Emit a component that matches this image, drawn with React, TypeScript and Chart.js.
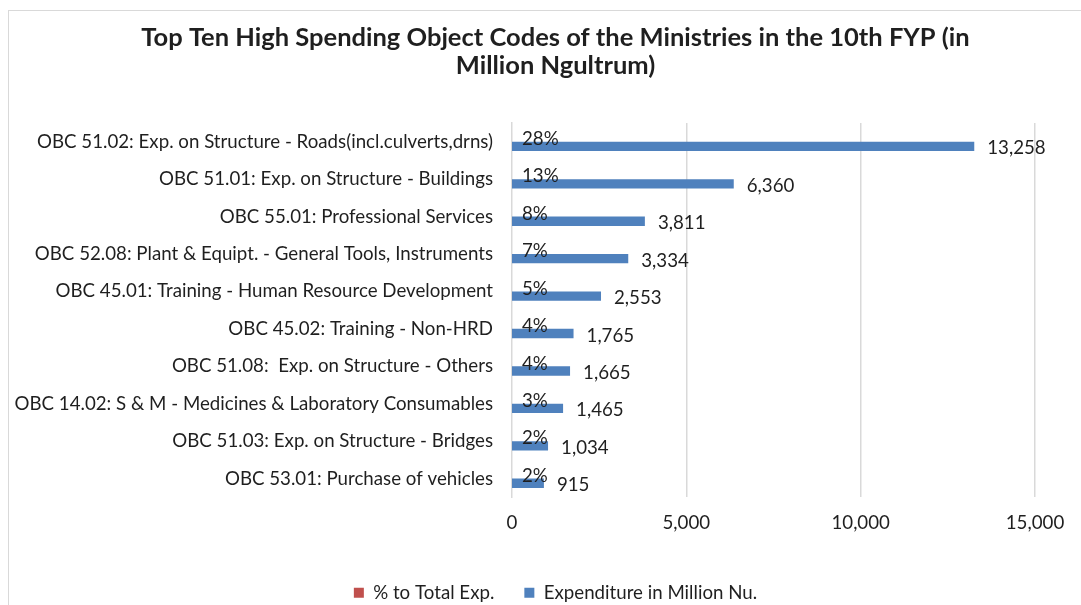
import React, { useEffect, useRef } from 'react';
import { Chart, registerables } from 'chart.js';

Chart.register(...registerables);

const titleLines = [
  'Top Ten High Spending Object Codes of the Ministries in the 10th FYP (in',
  'Million Ngultrum)',
];

const categories = [
  'OBC 51.02: Exp. on Structure - Roads(incl.culverts,drns)',
  'OBC 51.01: Exp. on Structure - Buildings',
  'OBC 55.01: Professional Services',
  'OBC 52.08: Plant & Equipt. - General Tools, Instruments',
  'OBC 45.01: Training - Human Resource Development',
  'OBC 45.02: Training - Non-HRD',
  'OBC 51.08:  Exp. on Structure - Others',
  'OBC 14.02: S & M - Medicines & Laboratory Consumables',
  'OBC 51.03: Exp. on Structure - Bridges',
  'OBC 53.01: Purchase of vehicles',
];

const seriesNames = ['% to Total Exp.', 'Expenditure in Million Nu.'];
const percentShares = [0.28, 0.13, 0.08, 0.07, 0.05, 0.04, 0.04, 0.03, 0.02, 0.02];
const expenditures = [13258, 6360, 3811, 3334, 2553, 1765, 1665, 1465, 1034, 915];
const xTickValues = [0, 5000, 10000, 15000];

const FONT = 'Lato';
const SIZE = 18.7;
const TEXT = '#1f1f1f';
const GRID = '#d9d9d9';

const fmt = (v: number) => v.toLocaleString('en-US');

const labelPlugin = {
  id: 'barLabels',
  afterLayout(chart: any) {
    // let the category labels use the full left margin (no clipping)
    const y = chart.scales.y;
    if (y) {
      const right = y.right;
      y.left = 0;
      y.width = right;
    }
  },
  afterDatasetsDraw(chart: any) {
    const ctx = chart.ctx;
    ctx.save();
    ctx.font = `${SIZE}px ${FONT}`;
    ctx.fillStyle = TEXT;
    ctx.textBaseline = 'middle';
    ctx.textAlign = 'left';
    const m0 = chart.getDatasetMeta(0);
    m0.data.forEach((el: any, i: number) => {
      ctx.fillText(Math.round(percentShares[i] * 100) + '%', el.x + 10, el.y + 2);
    });
    const m1 = chart.getDatasetMeta(1);
    m1.data.forEach((el: any, i: number) => {
      ctx.fillText(fmt(expenditures[i]), el.x + 13, el.y + 2);
    });
    ctx.restore();
  },
};

export default function App() {
  const ref = useRef<HTMLCanvasElement | null>(null);
  useEffect(() => {
    if (!ref.current) return;
    const chart = new Chart(ref.current, {
      type: 'bar',
      data: {
        labels: categories,
        datasets: [
          {
            label: seriesNames[0],
            data: percentShares,
            backgroundColor: '#c0504d',
            categoryPercentage: 0.5,
            barPercentage: 1,
            inflateAmount: 0,
          },
          {
            label: seriesNames[1],
            data: expenditures,
            backgroundColor: '#4f81bd',
            categoryPercentage: 0.5,
            barPercentage: 1,
          },
        ],
      },
      options: {
        indexAxis: 'y',
        animation: false,
        responsive: false,
        maintainAspectRatio: false,
        layout: { padding: { left: 76, right: 46, top: 0, bottom: -7 } },
        scales: {
          x: {
            min: 0,
            max: 15000,
            afterBuildTicks: (scale: any) => {
              scale.ticks = xTickValues.map((v) => ({ value: v }));
            },
            afterFit: (scale: any) => {
              scale.height = 56;
            },
            grid: {
              color: GRID,
              lineWidth: (c: any) => (c.tick && c.tick.value === 0 ? 0 : 1.5),
              drawTicks: false,
            },
            border: { display: false },
            ticks: {
              padding: 14,
              color: TEXT,
              font: { family: FONT, size: SIZE },
              callback: (v: any) => fmt(Number(v)),
            },
          },
          y: {
            afterFit: (scale: any) => {
              scale.width = 436;
            },
            grid: { display: false, drawTicks: false },
            border: { display: true, color: GRID, width: 1.5 },
            ticks: {
              padding: 19,
              color: TEXT,
              font: { family: FONT, size: SIZE },
              autoSkip: false,
            },
          },
        },
        plugins: {
          title: {
            display: true,
            text: titleLines,
            color: TEXT,
            font: { family: FONT, size: 25.5, weight: 'bold', lineHeight: '28px' },
            padding: { top: 24, bottom: 43 },
          },
          legend: {
            position: 'bottom',
            labels: {
              color: TEXT,
              font: { family: FONT, size: SIZE },
              boxWidth: 10,
              boxHeight: 10,
              padding: 30,
            },
          },
          tooltip: { enabled: false },
        },
      },
      plugins: [labelPlugin],
    });
    return () => chart.destroy();
  }, []);

  return (
    <div style={{ position: 'fixed', left: 0, top: 0, width: 1081, height: 605, background: '#fff', overflow: 'hidden' }}>
      <div
        style={{
          position: 'absolute',
          left: 8,
          top: 10,
          width: 1200,
          height: 800,
          borderTop: '1.5px solid #d9d9d9',
          borderLeft: '1.5px solid #d9d9d9',
        }}
      />
      <canvas ref={ref} width={1081} height={605} style={{ position: 'absolute', left: 0, top: 0 }} />
    </div>
  );
}
